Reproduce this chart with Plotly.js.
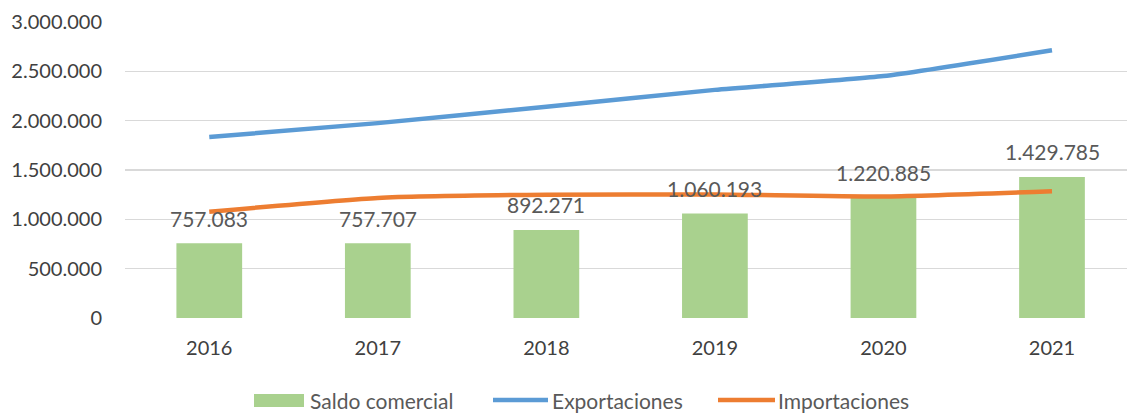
<!DOCTYPE html>
<html>
<head>
<meta charset="utf-8">
<script src="https://cdn.plot.ly/plotly-3.0.1.min.js"></script>
<style>
  html, body { margin: 0; padding: 0; background: #ffffff; }
  #chart { width: 1127px; height: 413px; }
</style>
</head>
<body>
<div id="chart"></div>
<script>
// ---- data ----
const years = ['2016', '2017', '2018', '2019', '2020', '2021'];
const saldoComercial = [757083, 757707, 892271, 1060193, 1220885, 1429785];
const exportaciones = [1834000, 1975000, 2142000, 2312000, 2452000, 2714000];
const importaciones = [1077000, 1217000, 1250000, 1252000, 1231000, 1284000];
const seriesNames = ['Saldo comercial', 'Exportaciones', 'Importaciones'];
const seriesColors = ['#A9D18E', '#5B9BD5', '#ED7D31'];

function fmt(v) {
  return String(v).replace(/\B(?=(\d{3})+(?!\d))/g, '.');
}

const FONT = 'Lato, "Open Sans", sans-serif';

// plot area geometry (pixels)
const W = 1127, H = 413;
const M = { l: 125, r: 0, t: 22, b: 95 };
const plotW = W - M.l - M.r, plotH = H - M.t - M.b;
const px = p => (p - M.l) / plotW;            // pixel x -> paper x
const py = p => (H - M.b - p) / plotH;        // pixel y -> paper y

const traces = [
  {
    type: 'bar',
    name: seriesNames[0],
    x: years,
    y: saldoComercial,
    width: 0.39,
    marker: { color: seriesColors[0] },
    showlegend: false
  },
  {
    type: 'scatter',
    mode: 'lines',
    name: seriesNames[1],
    x: years,
    y: exportaciones,
    line: { color: seriesColors[1], width: 4.5, shape: 'spline', smoothing: 0.5 },
    showlegend: false
  },
  {
    type: 'scatter',
    mode: 'lines',
    name: seriesNames[2],
    x: years,
    y: importaciones,
    line: { color: seriesColors[2], width: 4.5, shape: 'spline', smoothing: 0.5 },
    showlegend: false
  }
];

// data labels above bars (x given as category index)
const annotations = years.map((yr, i) => ({
  x: i,
  y: saldoComercial[i],
  xref: 'x',
  yref: 'y',
  text: fmt(saldoComercial[i]),
  showarrow: false,
  xanchor: 'center',
  yanchor: 'middle',
  yshift: 25,
  font: { family: FONT, size: 21, color: '#595959' }
}));

// custom legend (Excel-like wide swatches)
const legendY = 400;
const legendItems = [
  { kind: 'rect', x0: 254, x1: 304, tx: 308 },
  { kind: 'line', x0: 493, x1: 548, tx: 550 },
  { kind: 'line', x0: 718, x1: 775, tx: 776 }
];
const shapes = [];
legendItems.forEach((it, i) => {
  if (it.kind === 'rect') {
    shapes.push({
      type: 'rect', xref: 'paper', yref: 'paper',
      x0: px(it.x0), x1: px(it.x1), y0: py(legendY + 7), y1: py(legendY - 6),
      fillcolor: seriesColors[i], line: { width: 0 }
    });
  } else {
    shapes.push({
      type: 'line', xref: 'paper', yref: 'paper',
      x0: px(it.x0), x1: px(it.x1), y0: py(legendY), y1: py(legendY),
      line: { color: seriesColors[i], width: 4.5 }
    });
  }
  annotations.push({
    xref: 'paper', yref: 'paper',
    x: px(it.tx), y: py(legendY),
    xanchor: 'left', yanchor: 'middle',
    text: seriesNames[i],
    showarrow: false,
    font: { family: FONT, size: 21, color: '#595959' }
  });
});

const layout = {
  width: W,
  height: H,
  margin: M,
  paper_bgcolor: '#ffffff',
  plot_bgcolor: '#ffffff',
  separators: ',.',
  font: { family: FONT, size: 20, color: '#404040' },
  showlegend: false,
  xaxis: {
    type: 'category',
    range: [-0.5, 5.445],
    showgrid: false,
    showline: false,
    zeroline: false,
    ticks: 'outside',
    ticklen: 12,
    tickcolor: 'rgba(0,0,0,0)',
    tickfont: { family: FONT, size: 20, color: '#404040' }
  },
  yaxis: {
    range: [0, 3000000],
    tickmode: 'linear',
    tick0: 0,
    dtick: 500000,
    tickformat: ',.0f',
    showgrid: true,
    gridcolor: '#d9d9d9',
    gridwidth: 1.5,
    zeroline: false,
    showline: false,
    ticks: 'outside',
    ticklen: 18,
    tickcolor: 'rgba(0,0,0,0)',
    tickfont: { family: FONT, size: 20, color: '#404040' }
  },
  shapes: shapes,
  annotations: annotations
};

Plotly.newPlot('chart', traces, layout, { displayModeBar: false, staticPlot: true });
</script>
</body>
</html>
